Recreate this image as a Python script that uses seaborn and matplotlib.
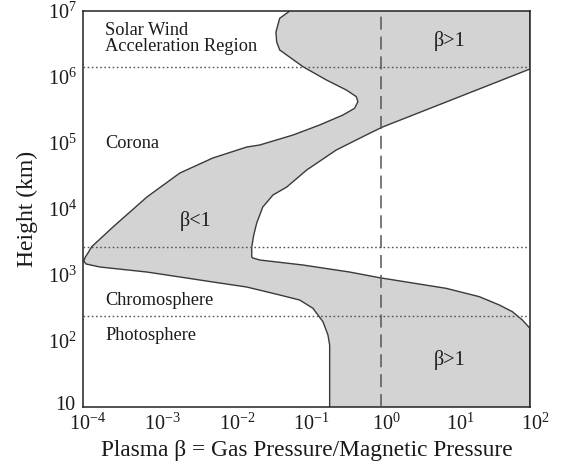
import numpy as np
import pandas as pd
import matplotlib
matplotlib.use("Agg")
import matplotlib.pyplot as plt
from matplotlib.ticker import FixedLocator, NullLocator, FixedFormatter
from matplotlib.transforms import ScaledTranslation
import seaborn as sns

# ---------------- data (log10 units) ----------------
# left edge of the grey beta band: log10 height (km), log10 beta
left_log_h = [1.000, 1.940, 2.091, 2.292, 2.495, 2.621, 2.697, 2.818, 2.894, 2.970,
              3.045, 3.121, 3.167, 3.212, 3.270, 3.340, 3.429, 3.727, 4.182, 4.545,
              4.773, 4.939, 4.970, 5.121, 5.273, 5.424, 5.526, 5.626, 5.702, 5.803,
              5.955, 6.156, 6.409, 6.530, 6.680, 6.889, 7.000]
left_log_beta = [-0.689, -0.689, -0.712, -0.779, -0.913, -1.091, -1.359, -1.802, -2.257, -2.700,
                 -3.142, -3.772, -3.960, -3.990, -3.970, -3.930, -3.883, -3.598, -3.142, -2.700,
                 -2.257, -1.802, -1.627, -1.181, -0.823, -0.511, -0.354, -0.310, -0.331, -0.465,
                 -0.733, -1.047, -1.359, -1.400, -1.410, -1.360, -1.225]

# right edge of the grey beta band
right_log_h = [1.000, 2.192, 2.318, 2.444, 2.545, 2.671, 2.798, 2.959, 3.045, 3.152,
               3.227, 3.258, 3.273, 3.424, 3.606, 3.788, 4.030, 4.212, 4.333, 4.591,
               4.894, 5.147, 5.242, 6.121, 7.000]
right_log_beta = [2.000, 2.000, 1.898, 1.764, 1.590, 1.322, 0.875, -0.019, -0.421, -1.051,
                  -1.627, -1.720, -1.735, -1.735, -1.708, -1.668, -1.587, -1.450, -1.265, -0.997,
                  -0.600, -0.153, 0.021, 2.000, 2.000]

layer_heights = [1.4e6, 2.65e3, 2.4e2]   # dotted region boundaries (km)
beta_unity = 1.0

x_ticks = [1e-4, 1e-3, 1e-2, 1e-1, 1e0, 1e1, 1e2]
x_ticklabels = [r"$\mathregular{10^{-4}}$", r"$\mathregular{10^{-3}}$", r"$\mathregular{10^{-2}}$",
                r"$\mathregular{10^{-1}}$", r"$\mathregular{10^{0}}$", r"$\mathregular{10^{1}}$",
                r"$\mathregular{10^{2}}$"]
y_ticks = [1e1, 1e2, 1e3, 1e4, 1e5, 1e6, 1e7]
y_ticklabels = ["10", r"$\mathregular{10^{2}}$", r"$\mathregular{10^{3}}$", r"$\mathregular{10^{4}}$",
                r"$\mathregular{10^{5}}$", r"$\mathregular{10^{6}}$", r"$\mathregular{10^{7}}$"]

region_labels = ["Solar Wind\nAcceleration Region", "Corona", "Chromosphere", "Photosphere"]
region_label_h = [3.8e6, 1.0e5, 4.05e2, 1.23e2]
beta_labels = ["β<1", "β>1", "β>1"]
beta_label_x = [3.2e-3, 8.3, 8.3]
beta_label_h = [6.6e3, 3.5e6, 5.1e1]

# ---------------- style ----------------
sns.set_theme(style="white")
plt.rcParams["font.family"] = ["Liberation Serif", "DejaVu Serif"]
plt.rcParams["mathtext.fontset"] = "custom"
plt.rcParams["mathtext.rm"] = "Liberation Serif"
plt.rcParams["mathtext.it"] = "Liberation Serif:italic"
plt.rcParams["mathtext.bf"] = "Liberation Serif:bold"

fig = plt.figure(figsize=(5.62, 4.72), dpi=100)
ax = fig.add_axes([0.1477, 0.1377, 0.7953, 0.8390])
ax.set_xscale("log")
ax.set_yscale("log")

line_col = "#3a3a3a"
fill_col = "#d3d3d3"

bL = np.power(10.0, left_log_beta)
hL = np.power(10.0, left_log_h)
bR = np.power(10.0, right_log_beta)
hR = np.power(10.0, right_log_h)

ax.fill(np.concatenate([bL, bR[::-1]]), np.concatenate([hL, hR[::-1]]),
        color=fill_col, lw=0, zorder=1)

left_df = pd.DataFrame({"beta": bL, "h": hL})
right_df = pd.DataFrame({"beta": bR, "h": hR})
sns.lineplot(data=left_df, x="beta", y="h", sort=False, estimator=None,
             color=line_col, lw=1.0, ax=ax, zorder=2)
sns.lineplot(data=right_df, x="beta", y="h", sort=False, estimator=None,
             color=line_col, lw=1.0, ax=ax, zorder=2)

for hh in layer_heights:
    ax.axhline(hh, color="#555555", lw=1.0, linestyle=(0, (1.2, 1.8)), zorder=3)
ax.axvline(beta_unity, color="#555555", lw=1.1, linestyle=(0, (8.5, 4.5)), zorder=3)

ax.set_xlim(1e-4, 1e2)
ax.set_ylim(1e1, 1e7)

ax.xaxis.set_major_locator(FixedLocator(x_ticks))
ax.xaxis.set_major_formatter(FixedFormatter(x_ticklabels))
ax.yaxis.set_major_locator(FixedLocator(y_ticks))
ax.yaxis.set_major_formatter(FixedFormatter(y_ticklabels))
ax.xaxis.set_minor_locator(NullLocator())
ax.yaxis.set_minor_locator(NullLocator())
ax.tick_params(axis="both", which="major", direction="in", length=8.6, width=1.1,
               color="#222222", labelsize=14.5, labelcolor="#1a1a1a", pad=4.5)
ax.tick_params(top=False, right=False)

# x tick labels: the "10" sits on the tick, the exponent sticks out to the right
shift = ScaledTranslation(5 / 100.0, 0, fig.dpi_scale_trans)
for t in ax.xaxis.get_major_ticks():
    t.label1.set_transform(t.label1.get_transform() + shift)
# lift the bottom-left "10" slightly so it clears the x tick label below it
lift = ScaledTranslation(-1 / 100.0, 4 / 100.0, fig.dpi_scale_trans)
ytk = ax.yaxis.get_major_ticks()
ytk[0].label1.set_transform(ytk[0].label1.get_transform() + lift)

for sp in ax.spines.values():
    sp.set_visible(True)
    sp.set_color("#222222")
    sp.set_linewidth(1.1)

ax.set_xlabel("Plasma β = Gas Pressure/Magnetic Pressure", fontsize=16.8, color="#1a1a1a")
ax.set_ylabel("Height (km)", fontsize=17, color="#1a1a1a")
ax.xaxis.set_label_coords(0.5, -0.083)
ax.yaxis.set_label_coords(-0.10, 0.5)

for lab, hh in zip(region_labels, region_label_h):
    ax.text(2.0e-4, hh, lab, fontsize=13.2, color="#1a1a1a", ha="left", va="center",
            linespacing=0.92, zorder=4)
for lab, xx, hh in zip(beta_labels, beta_label_x, beta_label_h):
    ax.text(xx, hh, lab, fontsize=14.5, color="#1a1a1a", ha="center", va="center", zorder=4)

fig.savefig("out.png", dpi=100)
